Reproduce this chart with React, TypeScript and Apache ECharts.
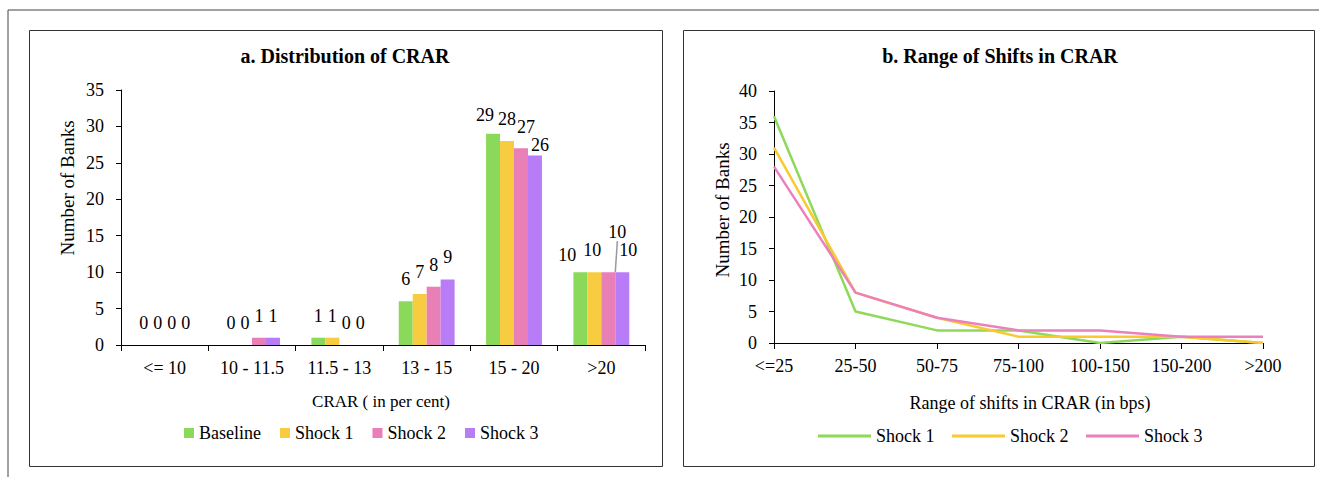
import React, { useEffect, useRef } from "react";
import * as echarts from "echarts";

const crarCategories = ["<= 10", "10 - 11.5", "11.5 - 13", "13 - 15", "15 - 20", ">20"];
const baseline = [0, 0, 1, 6, 29, 10];
const shock1Bars = [0, 0, 1, 7, 28, 10];
const shock2Bars = [0, 1, 0, 8, 27, 10];
const shock3Bars = [0, 1, 0, 9, 26, 10];

const shiftCategories = ["<=25", "25-50", "50-75", "75-100", "100-150", "150-200", ">200"];
const shock1Line = [36, 5, 2, 2, 0, 1, 0];
const shock2Line = [31, 8, 4, 1, 1, 1, 0];
const shock3Line = [28, 8, 4, 2, 2, 1, 1];

const FONT = "Liberation Serif";
const C_GREEN = "#8BD95A";
const C_YELLOW = "#F8CC40";
const C_PINK = "#E97FB7";
const C_PURPLE = "#B77CF6";

// manual label nudges (like hand-placed labels in the original)
const nudge: Record<string, Record<number, { dx: number; dy: number }>> = {
  Baseline: { 4: { dx: -8, dy: 3 }, 5: { dx: -13, dy: 5 } },
  "Shock 1": { 5: { dx: -2, dy: 0 } },
  "Shock 2": { 4: { dx: 5, dy: 1 }, 5: { dx: 9, dy: -18 } },
  "Shock 3": { 4: { dx: 5, dy: 11 }, 5: { dx: 6, dy: 0 } },
};

export default function App() {
  const ref = useRef<HTMLDivElement>(null);
  useEffect(() => {
    if (!ref.current) return;
    const chart = echarts.init(ref.current, null, { renderer: "svg" });
    const axisText = { color: "#000", fontFamily: FONT, fontSize: 18 };
    const barLabel = {
      show: true,
      position: "top",
      distance: 13,
      color: "#000",
      fontFamily: FONT,
      fontSize: 18,
    };
    const catAxisCommon = {
      axisLine: { lineStyle: { color: "#000", width: 1 } },
      axisTick: { show: true, length: 6, lineStyle: { color: "#000" } },
      axisLabel: { ...axisText, margin: 14 },
      splitLine: { show: false },
    };
    const valAxisCommon = {
      axisLine: { show: true, lineStyle: { color: "#000", width: 1 } },
      axisTick: { show: true, length: 5, lineStyle: { color: "#000" } },
      axisLabel: { ...axisText, margin: 17 },
      splitLine: { show: false },
    };
    const layoutFor = (name: string) => (p: any) => {
      const n = nudge[name] && nudge[name][p.dataIndex];
      return n ? { dx: n.dx, dy: n.dy } : {};
    };
    const barSeries = (name: string, values: number[], color: string, extra: any = {}) => ({
      name,
      type: "bar",
      xAxisIndex: 0,
      yAxisIndex: 0,
      data: values.map((v, i) =>
        name === "Shock 2" && i === 5
          ? { value: v, labelLine: { show: true, lineStyle: { color: "#999", width: 1.5 } } }
          : v
      ),
      itemStyle: { color },
      label: barLabel,
      labelLayout: layoutFor(name),
      labelLine: { show: false },
      ...extra,
    });
    const option: any = {
      animation: false,
      backgroundColor: "#fff",
      textStyle: { fontFamily: FONT },
      graphic: [
        { type: "line", shape: { x1: 8, y1: 10, x2: 1319, y2: 10 }, style: { stroke: "#444", lineWidth: 1 } },
        { type: "line", shape: { x1: 8, y1: 10, x2: 8, y2: 477 }, style: { stroke: "#444", lineWidth: 1 } },
        { type: "rect", shape: { x: 29.5, y: 30.5, width: 633, height: 436 }, style: { fill: "none", stroke: "#333", lineWidth: 1 } },
        { type: "rect", shape: { x: 683.5, y: 30.5, width: 631, height: 436 }, style: { fill: "none", stroke: "#333", lineWidth: 1 } },
        { type: "text", x: 345, y: 56, style: { text: "a. Distribution of CRAR", font: `bold 20px "${FONT}"`, fill: "#000", align: "center", verticalAlign: "middle" } },
        { type: "text", x: 1000, y: 56, style: { text: "b. Range of Shifts in CRAR", font: `bold 20px "${FONT}"`, fill: "#000", align: "center", verticalAlign: "middle" } },
        { type: "text", x: 67, y: 188, rotation: Math.PI / 2, style: { text: "Number of Banks", font: `19px "${FONT}"`, fill: "#000", align: "center", verticalAlign: "middle" } },
        { type: "text", x: 722, y: 210, rotation: Math.PI / 2, style: { text: "Number of Banks", font: `19px "${FONT}"`, fill: "#000", align: "center", verticalAlign: "middle" } },
        { type: "text", x: 381, y: 401, style: { text: "CRAR ( in per cent)", font: `17px "${FONT}"`, fill: "#000", align: "center", verticalAlign: "middle" } },
        { type: "text", x: 1030, y: 403, style: { text: "Range of shifts in CRAR (in bps)", font: `18px "${FONT}"`, fill: "#000", align: "center", verticalAlign: "middle" } },
      ],
      legend: [
        {
          data: ["Baseline", "Shock 1", "Shock 2", "Shock 3"],
          left: 184,
          top: 424,
          padding: 0,
          itemWidth: 10,
          itemHeight: 10,
          itemGap: 19,
          icon: "rect",
          textStyle: { color: "#000", fontFamily: FONT, fontSize: 18 },
        },
        {
          data: ["Shock 1 ", "Shock 2 ", "Shock 3 "],
          left: 818,
          top: 427,
          padding: 0,
          itemWidth: 53,
          itemHeight: 3,
          itemGap: 13,
          icon: "rect",
          textStyle: { color: "#000", fontFamily: FONT, fontSize: 18 },
        },
      ],
      grid: [
        { left: 121, right: 674, top: 90, bottom: 132, containLabel: false },
        { left: 774, right: 56, top: 91, bottom: 134, containLabel: false },
      ],
      xAxis: [
        { ...catAxisCommon, type: "category", gridIndex: 0, data: crarCategories, boundaryGap: true },
        { ...catAxisCommon, type: "category", gridIndex: 1, data: shiftCategories, boundaryGap: false, axisTick: { show: true, length: 6, alignWithLabel: true, lineStyle: { color: "#000" } } },
      ],
      yAxis: [
        { ...valAxisCommon, type: "value", gridIndex: 0, min: 0, max: 35, interval: 5 },
        { ...valAxisCommon, type: "value", gridIndex: 1, min: 0, max: 40, interval: 5 },
      ],
      series: [
        barSeries("Baseline", baseline, C_GREEN, { barGap: "0%", barCategoryGap: "36%" }),
        barSeries("Shock 1", shock1Bars, C_YELLOW),
        barSeries("Shock 2", shock2Bars, C_PINK),
        barSeries("Shock 3", shock3Bars, C_PURPLE),
        { name: "Shock 1 ", type: "line", xAxisIndex: 1, yAxisIndex: 1, data: shock1Line, symbol: "none", lineStyle: { color: "#8ED85A", width: 2.5 }, itemStyle: { color: "#8ED85A" } },
        { name: "Shock 2 ", type: "line", xAxisIndex: 1, yAxisIndex: 1, data: shock2Line, symbol: "none", lineStyle: { color: "#F9C92F", width: 2.5 }, itemStyle: { color: "#F9C92F" } },
        { name: "Shock 3 ", type: "line", xAxisIndex: 1, yAxisIndex: 1, data: shock3Line, symbol: "none", lineStyle: { color: "#EC80BC", width: 2.5 }, itemStyle: { color: "#EC80BC" } },
      ],
    };
    chart.setOption(option);
    return () => chart.dispose();
  }, []);
  return <div ref={ref} style={{ position: "fixed", left: 0, top: 0, width: 1319, height: 477 }} />;
}
